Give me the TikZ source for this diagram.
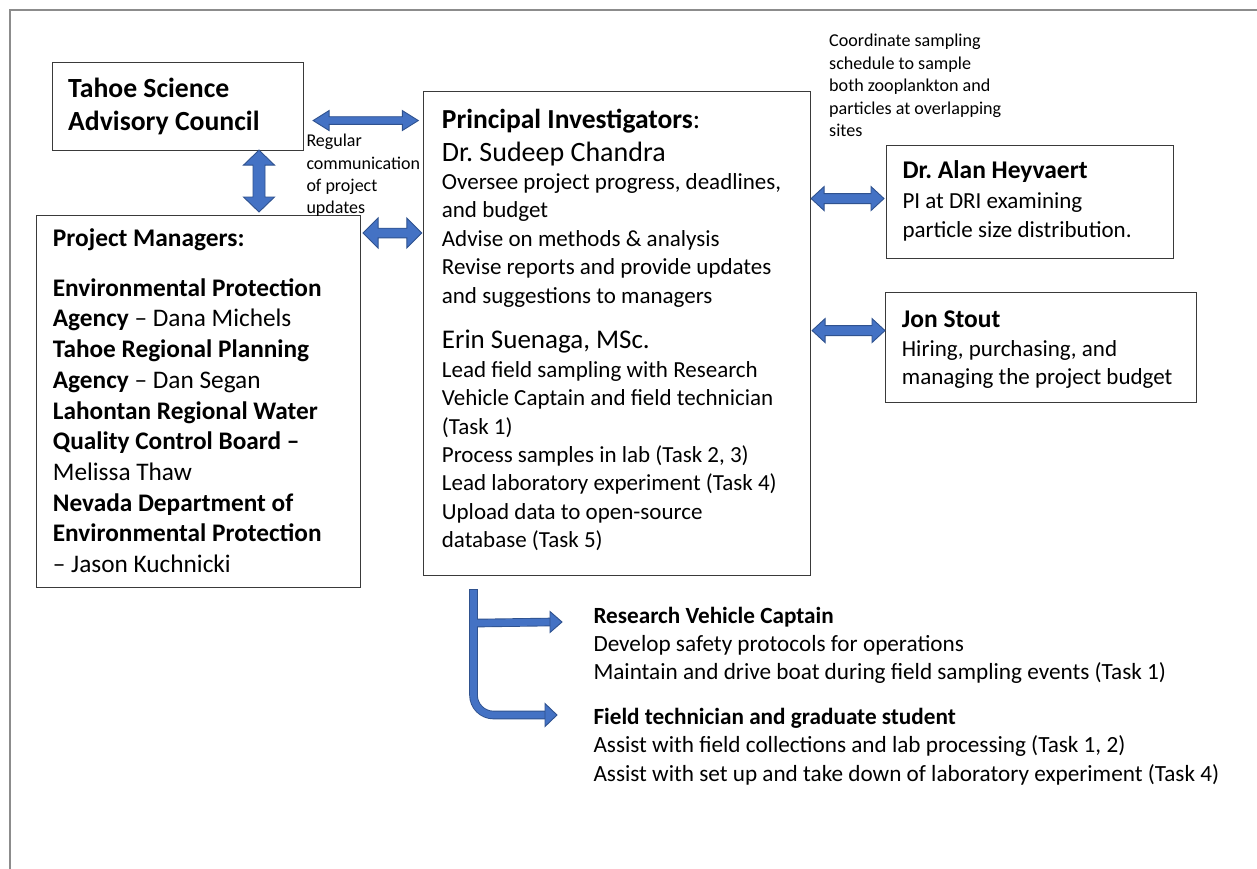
\documentclass[tikz,border=0pt]{standalone}
\usepackage{fontspec}
\setmainfont{Carlito}
\usetikzlibrary{calc}
\definecolor{abl}{HTML}{4472C4}
\definecolor{aed}{HTML}{2F528F}
\definecolor{frm}{HTML}{8C8C8C}
\definecolor{bxd}{HTML}{3A3A3A}
\newcommand\fs[2]{\fontsize{#1}{#2}\selectfont}
% horizontal double block arrow: (start) (end) halfshaft halfhead headlen
\newcommand\dblH[5]{%
 \filldraw[blk] let \p1=(#1), \p2=(#2) in (\x1,\y1) -- (\x1+#5,\y1+#4) -- (\x1+#5,\y1+#3) -- (\x2-#5,\y1+#3) -- (\x2-#5,\y1+#4) -- (\x2,\y1) -- (\x2-#5,\y1-#4) -- (\x2-#5,\y1-#3) -- (\x1+#5,\y1-#3) -- (\x1+#5,\y1-#4) -- cycle;}
% vertical double block arrow: (top) (bottom) halfshaft halfhead headlen
\newcommand\dblV[5]{%
 \filldraw[blk] let \p1=(#1), \p2=(#2) in (\x1,\y1) -- (\x1+#4,\y1-#5) -- (\x1+#3,\y1-#5) -- (\x1+#3,\y2+#5) -- (\x1+#4,\y2+#5) -- (\x1,\y2) -- (\x1-#4,\y2+#5) -- (\x1-#3,\y2+#5) -- (\x1-#3,\y1-#5) -- (\x1-#4,\y1-#5) -- cycle;}
\frenchspacing
\begin{document}
\begin{tikzpicture}[x=1pt,y=1pt,
  box/.style={draw=bxd, line width=1.1pt, inner sep=0, anchor=north west},
  txt/.style={inner sep=0, align=left, anchor=north west, text=black},
  one/.style={inner sep=0, anchor=base west, text=black},
  blk/.style={fill=abl, draw=aed, line width=0.9pt, line join=miter}]
\useasboundingbox (0,0) rectangle (1257,-869);
\fill[white] (0,0) rectangle (1257,-869);
% outer frame
\draw[frm, line width=1.6pt] (1257,-10) -- (10,-10) -- (10,-869);

% boxes
\node[box, minimum width=251.3, minimum height=88.3] (tsac) at (52,-61.7) {};
\node[box, minimum width=324, minimum height=371.7] (pm) at (36,-215) {};
\node[box, minimum width=386.7, minimum height=484] (pi) at (423.3,-91) {};
\node[box, minimum width=287.6, minimum height=112.4] (hey) at (885.7,-145.3) {};
\node[box, minimum width=310.7, minimum height=109.4] (stout) at (885,-292.3) {};

% texts
\node[txt, font=\bfseries\fs{27.7}{33}] (tsacT) at (68,-71) {\rule{0pt}{26pt}Tahoe Science\\Advisory Council};
\node[txt, font=\fs{18}{22.2}] (comm) at (306.3,-129.7) {\rule{0pt}{17pt}Regular\\communication\\of project\\updates};
\node[txt, font=\fs{18.1}{22.5}] (coord) at (829,-29.7) {\rule{0pt}{17pt}Coordinate sampling\\schedule to sample\\both zooplankton and\\particles at overlapping\\sites};

\node[one, font=\bfseries\fs{25.4}{30}] (pmH) at (52.7,-246.7) {Project Managers:};
\node[txt, font=\fs{25.3}{30.7}] (pmB) at (52.7,-273) {\rule{0pt}{23pt}\textbf{Environmental Protection}\\\textbf{Agency} – Dana Michels\\\textbf{Tahoe Regional Planning}\\\textbf{Agency} – Dan Segan\\\textbf{Lahontan Regional Water}\\\textbf{Quality Control Board –}\\Melissa Thaw\\\textbf{Nevada Department of}\\\textbf{Environmental Protection}\\– Jason Kuchnicki};

\node[one, font=\fs{27.5}{30}] (piH) at (441.7,-128.3) {\textbf{Principal Investigators}:};
\node[one, font=\fs{28}{30}] (piS) at (441.7,-162) {Dr. Sudeep Chandra};
\node[txt, font=\fs{23}{28.5}] (piB) at (441.7,-167) {\rule{0pt}{22pt}Oversee project progress, deadlines,\\and budget\\Advise on methods \& analysis\\Revise reports and provide updates\\and suggestions to managers};
\node[one, font=\fs{27}{30}] (piE) at (441.7,-348.3) {Erin Suenaga, MSc.};
\node[txt, font=\fs{23}{28.3}] (piEB) at (441.7,-355.3) {\rule{0pt}{22pt}Lead field sampling with Research\\Vehicle Captain and field technician\\(Task 1)\\Process samples in lab (Task 2, 3)\\Lead laboratory experiment (Task 4)\\Upload data to open-source\\database (Task 5)};

\node[one, font=\bfseries\fs{25.5}{28}] (heyH) at (902.3,-178.3) {Dr. Alan Heyvaert};
\node[txt, font=\fs{23}{28.6}] (heyB) at (902.3,-186.3) {\rule{0pt}{22pt}PI at DRI examining\\particle size distribution.};
\node[one, font=\bfseries\fs{25.5}{28}] (stH) at (901.7,-327) {Jon Stout};
\node[txt, font=\fs{23}{28.4}] (stB) at (901.7,-334.3) {\rule{0pt}{22pt}Hiring, purchasing, and\\managing the project budget};

\node[txt, font=\fs{23.2}{28}] (rvc) at (593.3,-601.7) {\rule{0pt}{22pt}\textbf{Research Vehicle Captain}\\Develop safety protocols for operations\\Maintain and drive boat during field sampling events (Task 1)};
\node[txt, font=\fs{23.2}{28.5}] (ftg) at (593.3,-702) {\rule{0pt}{22pt}\textbf{Field technician and graduate student}\\Assist with field collections and lab processing (Task 1, 2)\\Assist with set up and take down of laboratory experiment (Task 4)};

% block arrows
\coordinate (a1s) at ($(tsac.east)+(8.7,-14.15)$);
\coordinate (a1e) at ($(pi.west |- a1s)+(-5,0)$);
\dblH{a1s}{a1e}{3.8pt}{10pt}{16pt}

\coordinate (a2s) at ($(tsac.south west)+(207,1)$);
\coordinate (a2e) at ($(pm.north west)+(223,3)$);
\dblV{a2s}{a2e}{6pt}{15.5pt}{15pt}

\coordinate (a3s) at ($(pm.north east)+(2,-18)$);
\coordinate (a3e) at ($(pi.west |- a3s)+(-1.5,0)$);
\dblH{a3s}{a3e}{4.8pt}{15pt}{15pt}

\coordinate (a4s) at ($(pi.east |- hey.west)+(0,3.5)$);
\coordinate (a4e) at ($(hey.west)+(-1.7,3.5)$);
\dblH{a4s}{a4e}{5pt}{12pt}{13pt}

\coordinate (a5s) at ($(pi.east |- stout.west)+(1,17)$);
\coordinate (a5e) at ($(stout.west)+(0,17)$);
\dblH{a5s}{a5e}{5pt}{12pt}{13pt}

% bent arrows to staff
\coordinate (b0) at ($(pi.south west)+(50.2,-13)$);
\coordinate (b1) at ($(b0)+(0,-34)$);
\coordinate (rtip) at ($(rvc.north west)+(-31.3,-20.3)$);
\coordinate (ftip) at ($(ftg.north west)+(-36.3,-13)$);
\draw[aed, line width=8.6pt, rounded corners=20pt] (b0) |- ($(ftip)+(-11,0)$);
\draw[aed, line width=8.6pt] (b1) -- ($(rtip)+(-11,0)$);
\draw[abl, line width=6.8pt, rounded corners=20pt] ($(b0)+(0,-0.9)$) |- ($(ftip)+(-11,0)$);
\draw[abl, line width=6.8pt] (b1) -- ($(rtip)+(-11,0)$);
\filldraw[blk] (rtip) -- ++(-12,10.5) -- ++(0,-21) -- cycle;
\filldraw[blk] (ftip) -- ++(-12,11.5) -- ++(0,-23) -- cycle;
\end{tikzpicture}
\end{document}
